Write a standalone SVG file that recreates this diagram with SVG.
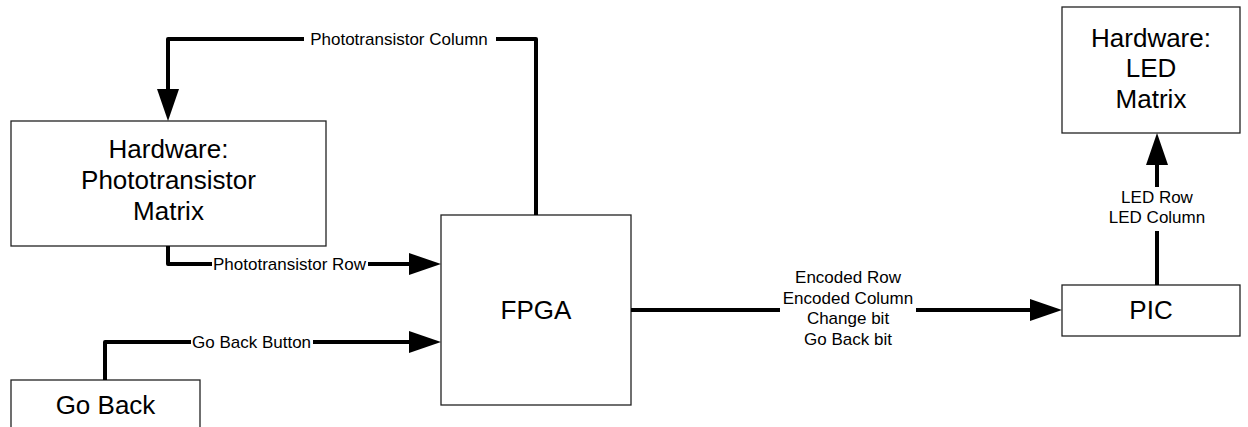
<svg xmlns="http://www.w3.org/2000/svg" width="1248" height="427" viewBox="0 0 1248 427">
<defs>
<style>
.box{fill:#fff;stroke:#222;stroke-width:1.3}
.big{font-family:"Liberation Sans",Arial,sans-serif;font-size:26px;fill:#000;text-anchor:middle}
.lbl{font-family:"Liberation Sans",Arial,sans-serif;font-size:17px;fill:#000}
.c{text-anchor:middle}
.wire{fill:none;stroke:#000;stroke-width:4;stroke-linejoin:round}
</style>
<marker id="arr" markerUnits="userSpaceOnUse" markerWidth="34" markerHeight="22" refX="0" refY="11" orient="auto" overflow="visible">
<path d="M0,0 L32,11 L0,22 Z" fill="#000"/>
</marker>
</defs>
<rect width="1248" height="427" fill="#fff"/>
<g id="node-phototransistor-matrix">
<rect class="box" x="11" y="121" width="315" height="125"/>
<text class="big" x="168.5" y="158">Hardware:</text>
<text class="big" x="168.5" y="189">Phototransistor</text>
<text class="big" x="168.5" y="220">Matrix</text>
</g>
<g id="node-fpga">
<rect class="box" x="441" y="215" width="190" height="190"/>
<text class="big" x="536" y="319">FPGA</text>
</g>
<g id="node-pic">
<rect class="box" x="1062" y="285" width="178" height="51"/>
<text class="big" x="1151" y="319">PIC</text>
</g>
<g id="node-led-matrix">
<rect class="box" x="1062" y="7" width="178" height="126"/>
<text class="big" x="1151" y="47">Hardware:</text>
<text class="big" x="1151" y="77">LED</text>
<text class="big" x="1151" y="108">Matrix</text>
</g>
<g id="node-go-back">
<rect class="box" x="11" y="380" width="189" height="60"/>
<text class="big" x="105.5" y="414">Go Back</text>
</g>
<g id="connectors">
<path class="wire" d="M536,215 V39 H496"/>
<path class="wire" d="M304,39 H168 V89" marker-end="url(#arr)"/>
<text class="lbl c" x="399" y="45">Phototransistor Column</text>

<path class="wire" d="M168,246 V264 H212"/>
<path class="wire" d="M368,264 H409" marker-end="url(#arr)"/>
<text class="lbl" x="213" y="270">Phototransistor Row</text>

<path class="wire" d="M105,380 V342 H191"/>
<path class="wire" d="M313,342 H409" marker-end="url(#arr)"/>
<text class="lbl" x="192" y="348">Go Back Button</text>

<path class="wire" d="M631,310 H780"/>
<path class="wire" d="M916,310 H1030" marker-end="url(#arr)"/>
<text class="lbl c" x="848" y="283">Encoded Row</text>
<text class="lbl c" x="848" y="304">Encoded Column</text>
<text class="lbl c" x="848" y="324">Change bit</text>
<text class="lbl c" x="848" y="345">Go Back bit</text>

<path class="wire" d="M1157,285 V231"/>
<path class="wire" d="M1157,187 V165" marker-end="url(#arr)"/>
<text class="lbl c" x="1157" y="203">LED Row</text>
<text class="lbl c" x="1157" y="223">LED Column</text>
</g>
</svg>
